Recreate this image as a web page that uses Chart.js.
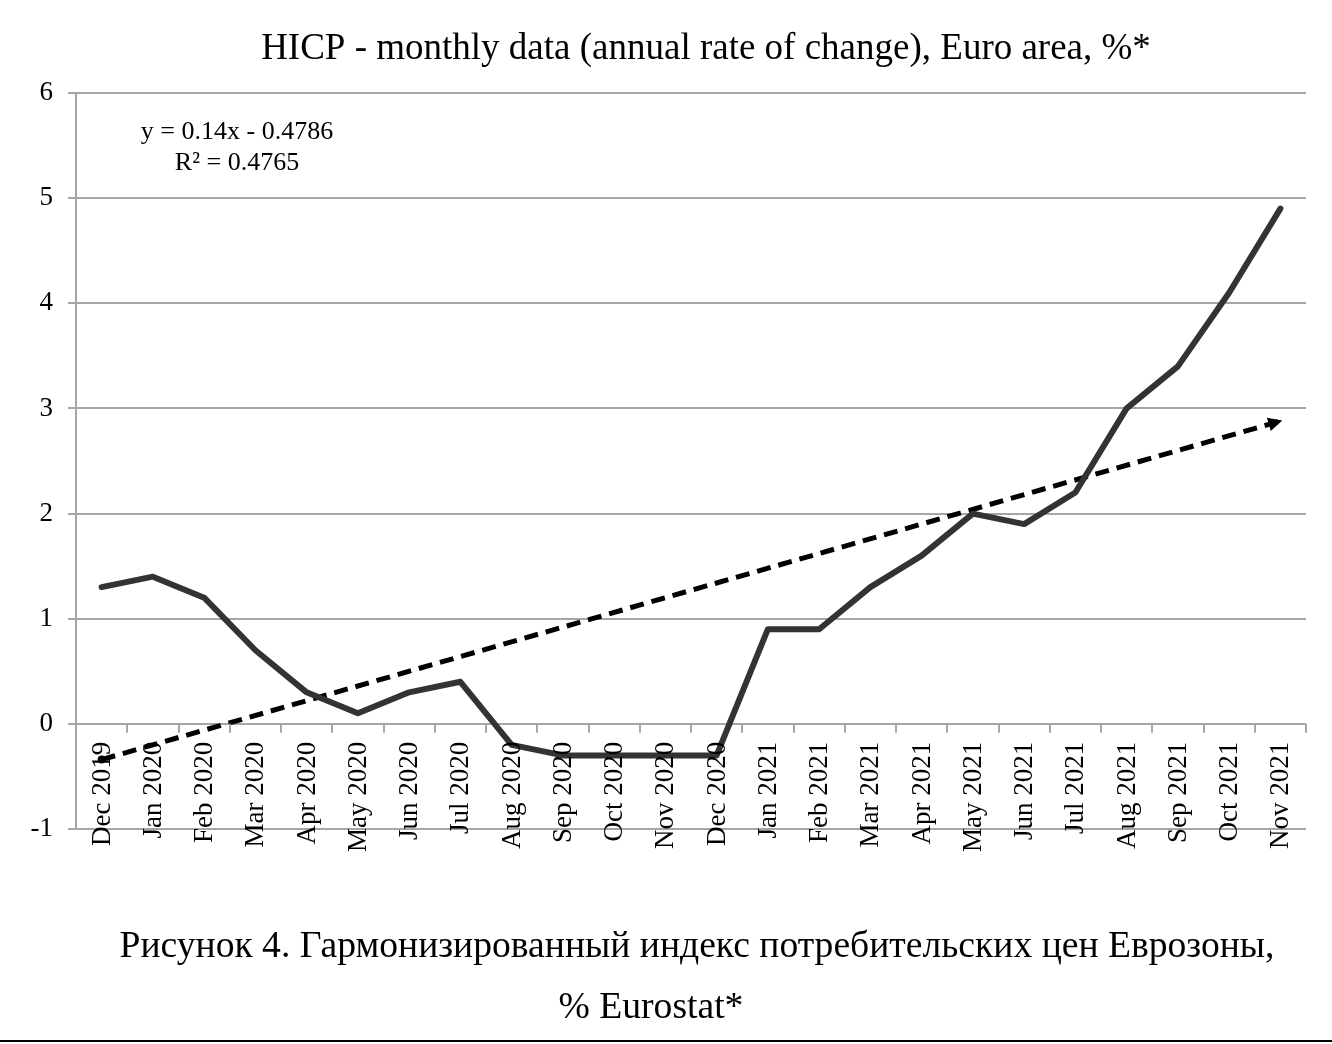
<!DOCTYPE html>
<html>
<head>
<meta charset="utf-8">
<script src="https://cdn.jsdelivr.net/npm/chart.js@4.4.1/dist/chart.umd.min.js"></script>
<style>
  html, body { margin: 0; padding: 0; background: #fff; }
  #wrap { width: 1332px; height: 1044px; }
</style>
</head>
<body>
<div id="wrap"><canvas id="hicpChart" width="1332" height="1044"></canvas></div>
<script>
const months = ['Dec 2019', 'Jan 2020', 'Feb 2020', 'Mar 2020', 'Apr 2020', 'May 2020', 'Jun 2020',
  'Jul 2020', 'Aug 2020', 'Sep 2020', 'Oct 2020', 'Nov 2020', 'Dec 2020', 'Jan 2021', 'Feb 2021',
  'Mar 2021', 'Apr 2021', 'May 2021', 'Jun 2021', 'Jul 2021', 'Aug 2021', 'Sep 2021', 'Oct 2021', 'Nov 2021'];
const hicp = [1.3, 1.4, 1.2, 0.7, 0.3, 0.1, 0.3, 0.4, -0.2, -0.3, -0.3, -0.3, -0.3,
  0.9, 0.9, 1.3, 1.6, 2.0, 1.9, 2.2, 3.0, 3.4, 4.1, 4.9];
// linear trend, only the two ends
const trend = [-0.34, null, null, null, null, null, null, null, null, null, null, null, null,
  null, null, null, null, null, null, null, null, null, null, 2.88];
const trendText = ['y = 0.14x - 0.4786', 'R\u00b2 = 0.4765'];
const titleText = 'HICP - monthly data (annual rate of change), Euro area, %*';
const captionText = ['\u0420\u0438\u0441\u0443\u043d\u043e\u043a 4. \u0413\u0430\u0440\u043c\u043e\u043d\u0438\u0437\u0438\u0440\u043e\u0432\u0430\u043d\u043d\u044b\u0439 \u0438\u043d\u0434\u0435\u043a\u0441 \u043f\u043e\u0442\u0440\u0435\u0431\u0438\u0442\u0435\u043b\u044c\u0441\u043a\u0438\u0445 \u0446\u0435\u043d \u0415\u0432\u0440\u043e\u0437\u043e\u043d\u044b,', '% Eurostat*'];

const serif = '"Liberation Serif", "Times New Roman", serif';
const gridGray = '#a6a6a6';

// category labels and tick marks sit on the zero line, plus title, note, caption
const extras = {
  id: 'extras',
  afterDatasetsDraw(chart) {
    const { ctx, scales: { x, y }, chartArea } = chart;
    const y0 = y.getPixelForValue(0);
    ctx.save();

    // tick marks on the zero line
    ctx.strokeStyle = gridGray;
    ctx.lineWidth = 2;
    const step = (chartArea.right - chartArea.left) / months.length;
    for (let i = 1; i <= months.length; i++) {
      const px = Math.round(chartArea.left + i * step);
      ctx.beginPath();
      ctx.moveTo(px, y0);
      ctx.lineTo(px, y0 + 9);
      ctx.stroke();
    }

    // arrow head on trend line, dot at its start
    const tm = chart.getDatasetMeta(1).data;
    const p1 = tm[0], p2 = tm[tm.length - 1];
    const ang = Math.atan2(p2.y - p1.y, p2.x - p1.x);
    ctx.fillStyle = '#000';
    ctx.beginPath();
    ctx.arc(p1.x, p1.y, 4, 0, Math.PI * 2);
    ctx.fill();
    ctx.translate(p2.x, p2.y);
    ctx.rotate(ang);
    ctx.beginPath();
    ctx.moveTo(2, 0);
    ctx.lineTo(-12, -7);
    ctx.lineTo(-12, 7);
    ctx.closePath();
    ctx.fill();
    ctx.restore();
  },
  afterDraw(chart) {
    const { ctx, scales: { x, y } } = chart;
    const y0 = y.getPixelForValue(0);
    ctx.save();
    ctx.fillStyle = '#000';

    // rotated month labels
    ctx.font = '27px ' + serif;
    ctx.textAlign = 'right';
    ctx.textBaseline = 'middle';
    months.forEach((m, i) => {
      ctx.save();
      ctx.translate(x.getPixelForValue(i), y0 + 18);
      ctx.rotate(-Math.PI / 2);
      ctx.fillText(m, 0, 1);
      ctx.restore();
    });

    // title
    ctx.textAlign = 'center';
    ctx.textBaseline = 'alphabetic';
    ctx.font = '37px ' + serif;
    ctx.fillText(titleText, 706, 59);

    // trend note
    ctx.font = '26px ' + serif;
    ctx.fillText(trendText[0], 237, 139);
    ctx.fillText(trendText[1], 237, 170);

    // caption, narrow like the source
    ctx.font = '37px ' + serif;
    const sx = 1155 / ctx.measureText(captionText[0]).width;
    ctx.save();
    ctx.translate(697, 957);
    ctx.scale(sx, 1);
    ctx.fillText(captionText[0], 0, 0);
    ctx.restore();
    ctx.save();
    ctx.translate(651, 1018);
    ctx.scale(sx, 1);
    ctx.fillText(captionText[1], 0, 0);
    ctx.restore();

    // rule at page bottom
    ctx.fillRect(0, 1040, 1332, 2);
    ctx.restore();
  }
};

const ctx = document.getElementById('hicpChart').getContext('2d');
const chart = new Chart(ctx, {
  type: 'line',
  data: {
    labels: months,
    datasets: [
      {
        label: 'HICP',
        data: hicp,
        borderColor: '#333333',
        borderWidth: 6,
        borderJoinStyle: 'round',
        borderCapStyle: 'round',
        pointRadius: 0,
        tension: 0
      },
      {
        label: 'Trend',
        data: trend,
        spanGaps: true,
        borderColor: '#000000',
        borderWidth: 5,
        borderDash: [14, 8],
        borderCapStyle: 'butt',
        pointRadius: 0,
        tension: 0
      }
    ]
  },
  plugins: [extras],
  options: {
    responsive: false,
    animation: false,
    layout: { padding: { top: 93, right: 26, bottom: 215, left: 0 } },
    plugins: {
      legend: { display: false },
      tooltip: { enabled: false },
      title: { display: false }
    },
    scales: {
      x: {
        offset: true,
        grid: { display: false, offset: true },
        border: { display: false },
        ticks: { display: false },
        afterFit(s) { s.height = 0; }
      },
      y: {
        min: -1,
        max: 6,
        afterFit(s) { s.width = 76; },
        ticks: {
          stepSize: 1,
          color: '#000',
          padding: 15,
          font: { family: serif, size: 27 }
        },
        grid: { color: gridGray, lineWidth: 2, tickLength: 8 },
        border: { color: gridGray, width: 2 }
      }
    }
  }
});
</script>
</body>
</html>
